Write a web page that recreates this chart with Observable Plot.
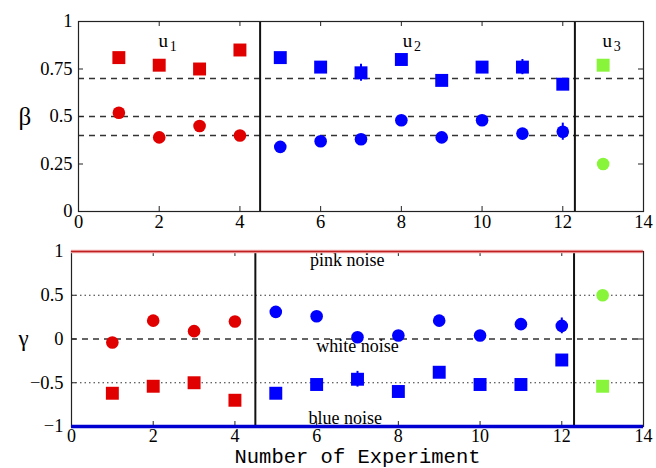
<!DOCTYPE html>
<html>
<head>
<meta charset="utf-8">
<script src="https://cdn.jsdelivr.net/npm/d3@7"></script>
<script src="https://cdn.jsdelivr.net/npm/@observablehq/plot@0.6"></script>
<style>
  body { margin: 0; background: #fff; }
  #chart svg { display: block; }
</style>
</head>
<body>
<div id="chart"></div>
<script>
// ---- data ----
const experiments = [1,2,3,4,5,6,7,8,9,10,11,12,13];
const group = ["u1","u1","u1","u1","u2","u2","u2","u2","u2","u2","u2","u2","u3"];
const betaSquare = [0.81,0.77,0.75,0.85,0.81,0.76,0.73,0.80,0.69,0.76,0.76,0.67,0.77];
const betaSquareErr = [0,0,0,0,0,0,0.045,0,0,0,0.04,0,0];
const betaCircle = [0.52,0.39,0.45,0.40,0.34,0.37,0.38,0.48,0.39,0.48,0.41,0.42,0.25];
const betaCircleErr = [0,0,0,0,0,0,0,0,0,0,0,0.045,0];
const gammaCircle = [-0.04,0.21,0.09,0.20,0.31,0.26,0.02,0.04,0.21,0.04,0.17,0.15,0.50];
const gammaCircleErr = [0,0,0,0,0,0,0,0,0,0,0,0.09,0];
const gammaSquare = [-0.62,-0.54,-0.50,-0.70,-0.62,-0.52,-0.46,-0.60,-0.38,-0.52,-0.52,-0.24,-0.54];
const gammaSquareErr = [0,0,0,0,0,0,0.09,0,0,0,0,0,0];
const betaRefLines = [0.7, 0.5, 0.4];
const gammaDotted = [0.5, -0.5];
const gammaDashed = [0];
const dividers = [4.5, 12.3];
const groupLabels = ["u","u","u"];
const groupSubs = ["1","2","3"];
const groupLabelX = [2.1, 8.15, 13.1];
const groupLabelY = [0.9, 0.9, 0.9];
const noiseLabels = ["pink noise","white noise","blue noise"];
const noiseX = [6.75, 7.0, 6.7];
const noiseY = [0.9, -0.08, -0.9];
const xTicks = [0,2,4,6,8,10,12,14];
const betaTicks = [0,0.25,0.5,0.75,1];
const gammaTicks = [-1,-0.5,0,0.5,1];

const colorOf = {u1: "#e00000", u2: "#0000ff", u3: "#88f53a"};
const rows = experiments.map((x, i) => ({
  x, c: colorOf[group[i]],
  bs: betaSquare[i], bse: betaSquareErr[i],
  bc: betaCircle[i], bce: betaCircleErr[i],
  gc: gammaCircle[i], gce: gammaCircleErr[i],
  gs: gammaSquare[i], gse: gammaSquareErr[i]
}));
const glabels = groupLabels.map((t, i) => ({t, s: groupSubs[i], x: groupLabelX[i], y: groupLabelY[i]}));
const nlabels = noiseLabels.map((t, i) => ({t, x: noiseX[i], y: noiseY[i]}));

const SERIF = "'Liberation Serif', 'Times New Roman', serif";
const fontStyle = {fontFamily: SERIF, fontSize: "18px", background: "white", color: "black", overflow: "visible"};
const fmt = d => d < 0 ? "\u2212" + Math.abs(d) : String(d);

// inward tick marks on all four sides, plus tick labels on left and bottom
function frameAxes(yTicks, innerW, innerH, xdy, ydx, fs) {
  const tl = 5;
  return [
    Plot.tickX(xTicks, {x: d => d, insetTop: innerH - tl, stroke: "#222"}),
    Plot.tickX(xTicks, {x: d => d, insetBottom: innerH - tl, stroke: "#222"}),
    Plot.tickY(yTicks, {y: d => d, insetRight: innerW - tl, stroke: "#222"}),
    Plot.tickY(yTicks, {y: d => d, insetLeft: innerW - tl, stroke: "#222"}),
    Plot.text(xTicks, {x: d => d, text: fmt, frameAnchor: "bottom", lineAnchor: "middle", dy: xdy, fontSize: fs, fontFamily: SERIF, fill: "black"}),
    Plot.text(yTicks, {y: d => d, text: fmt, frameAnchor: "left", textAnchor: "end", dx: -ydx, fontSize: 18.5, fontFamily: SERIF, fill: "black"})
  ];
}

// ---- top panel (beta) ----
const topPanel = Plot.plot({
  width: 656, height: 235,
  marginLeft: 78, marginRight: 13, marginTop: 21, marginBottom: 24,
  style: fontStyle,
  x: {domain: [0, 14], axis: null},
  y: {domain: [0, 1], axis: null},
  marks: [
    Plot.ruleY(betaRefLines, {stroke: "#333", strokeWidth: 1.5, strokeDasharray: "6,5"}),
    Plot.ruleX(dividers, {stroke: "#111", strokeWidth: 2}),
    Plot.ruleX(rows.filter(d => d.bse > 0), {x: "x", y1: d => d.bs - d.bse, y2: d => d.bs + d.bse, stroke: "c", strokeWidth: 2}),
    Plot.ruleX(rows.filter(d => d.bce > 0), {x: "x", y1: d => d.bc - d.bce, y2: d => d.bc + d.bce, stroke: "c", strokeWidth: 2}),
    Plot.dot(rows, {x: "x", y: "bs", symbol: "square", r: 7.3, fill: "c", stroke: null}),
    Plot.dot(rows, {x: "x", y: "bc", symbol: "circle", r: 6.3, fill: "c", stroke: null}),
    Plot.text(glabels, {x: "x", y: "y", text: "t", fontSize: 19, fontFamily: SERIF}),
    Plot.text(glabels, {x: "x", y: "y", text: "s", fontSize: 14, dx: 10, dy: 6, fontFamily: SERIF}),
    Plot.text(["β"], {frameAnchor: "left", y: [0.5], dx: -60, fontSize: 25, fontFamily: SERIF}),
    Plot.frame({stroke: "#222", strokeWidth: 1.2}),
    ...frameAxes(betaTicks, 565, 190, 11, 6, 18.5)
  ]
});

// ---- bottom panel (gamma) ----
const bottomPanel = Plot.plot({
  width: 656, height: 233,
  marginLeft: 71, marginRight: 13, marginTop: 16, marginBottom: 42,
  style: fontStyle,
  x: {domain: [0, 14], axis: null},
  y: {domain: [-1, 1], axis: null},
  marks: [
    Plot.ruleY(gammaDotted, {stroke: "#333", strokeWidth: 1.2, strokeDasharray: "1.5,3"}),
    Plot.ruleY(gammaDashed, {stroke: "#333", strokeWidth: 1.5, strokeDasharray: "6,5"}),
    Plot.ruleX(dividers, {stroke: "#111", strokeWidth: 2}),
    Plot.text(nlabels, {x: "x", y: "y", text: "t", fontSize: 18, fontFamily: SERIF}),
    Plot.ruleX(rows.filter(d => d.gse > 0), {x: "x", y1: d => d.gs - d.gse, y2: d => d.gs + d.gse, stroke: "c", strokeWidth: 2}),
    Plot.ruleX(rows.filter(d => d.gce > 0), {x: "x", y1: d => d.gc - d.gce, y2: d => d.gc + d.gce, stroke: "c", strokeWidth: 2}),
    Plot.dot(rows, {x: "x", y: "gs", symbol: "square", r: 7.3, fill: "c", stroke: null}),
    Plot.dot(rows, {x: "x", y: "gc", symbol: "circle", r: 6.3, fill: "c", stroke: null}),
    Plot.frame({stroke: "#222", strokeWidth: 1.2}),
    ...frameAxes(gammaTicks, 572, 175, 10, 8, 18),
    Plot.ruleY([1], {stroke: "#f4b0b0", strokeWidth: 3.5}),
    Plot.ruleY([1], {stroke: "#c02020", strokeWidth: 1.3}),
    Plot.ruleY([-1], {stroke: "#0000d0", strokeWidth: 3.5}),
    Plot.text(["γ"], {frameAnchor: "left", y: [0], dx: -53, fontSize: 23, fontFamily: SERIF}),
    Plot.text(["Number of Experiment"], {frameAnchor: "bottom", lineAnchor: "middle", dy: 29.5, fontSize: 20.5, fontFamily: "'Liberation Mono', 'DejaVu Sans Mono', monospace"})
  ]
});

const chart = document.getElementById("chart");
chart.append(topPanel, bottomPanel);
</script>
</body>
</html>
